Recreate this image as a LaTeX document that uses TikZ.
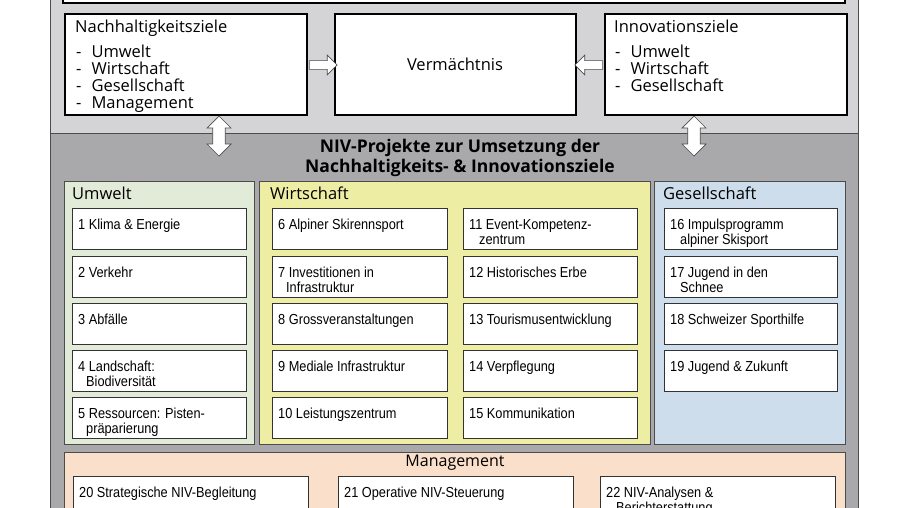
\documentclass[tikz,border=0pt]{standalone}
\usepackage{fontspec}
\setmainfont{Open Sans}
\newfontfamily\narrow[FakeStretch=0.88]{Liberation Sans}
\usetikzlibrary{shapes.arrows}
\definecolor{lightpanel}{HTML}{D4D4D6}
\definecolor{darkpanel}{HTML}{A9A9AB}
\definecolor{umw}{HTML}{E2EBD8}
\definecolor{wir}{HTML}{EEEDA4}
\definecolor{ges}{HTML}{CEDDEB}
\definecolor{man}{HTML}{FADFCB}
\tikzset{
  panel/.style={draw=black!70, line width=0.8pt},
  goal/.style={draw=black, fill=white, line width=1.4pt},
  pbox/.style={draw=black!80, fill=white, line width=0.9pt},
  ptext/.style={anchor=north west, inner sep=0pt, align=left, font=\narrow\fontsize{14.5}{15}\selectfont},
  gtext/.style={anchor=north west, inner sep=0pt, align=left, font=\fontsize{16.5}{17}\selectfont},
  hd/.style={anchor=north west, inner sep=0pt, font=\fontsize{16.5}{18}\selectfont},
  harrow/.style={single arrow, draw=black!70, fill=white, line width=0.7pt, minimum height=28pt, minimum width=20pt, single arrow head extend=3pt, inner sep=2pt},
  varrow/.style={double arrow, draw=black!70, fill=white, line width=0.7pt, minimum height=40pt, minimum width=24pt, double arrow head extend=3pt, inner sep=3pt, shape border rotate=90}
}
\newcommand{\mybox}[6]{%
  \draw[pbox] (#2,#3) rectangle (#4,#5);
  \node[ptext] (#1) at (#2+6,#3+11) {#6};}
\begin{document}
\begin{tikzpicture}[x=1pt,y=-1pt]
\useasboundingbox (0,0) rectangle (900,507);
\fill[white] (0,0) rectangle (900,507);
% panels
\draw[panel, fill=lightpanel] (50,-5) rectangle (858,133);
\draw[goal] (63,-5) rectangle (845,3);
\draw[panel, fill=darkpanel] (50,133) rectangle (858,515);
% goal boxes
\draw[goal] (65,14) rectangle (307,115);
\node[hd] (nz) at (75,20) {Nachhaltigkeitsziele};
\node[gtext] (nzl) at (76,45) {-\hspace{10pt}Umwelt\\-\hspace{10pt}Wirtschaft\\-\hspace{10pt}Gesellschaft\\-\hspace{10pt}Management};
\draw[goal] (335,14) rectangle (576,115);
\node[font=\fontsize{16.5}{18}\selectfont] (verm) at (455,64) {Vermächtnis};
\draw[goal] (605,14) rectangle (847,115);
\node[hd] (iz) at (614,20) {Innovationsziele};
\node[gtext] (izl) at (615,45) {-\hspace{10pt}Umwelt\\-\hspace{10pt}Wirtschaft\\-\hspace{10pt}Gesellschaft};
% arrows
\node[harrow] (a1) at (321,65) {};
\node[harrow, shape border rotate=180] (a2) at (591,65) {};
\node[varrow] (v1) at (219,136) {};
\node[varrow] (v2) at (694,136) {};
% title
\node[font=\bfseries\fontsize{17.5}{20}\selectfont, align=center] (title) at (460,158) {NIV-Projekte zur Umsetzung der\\Nachhaltigkeits- \& Innovationsziele};
% columns
\draw[panel, fill=umw] (64,181) rectangle (254,444);
\node[hd] (hu) at (72,187) {Umwelt};
\draw[panel, fill=wir] (259,181) rectangle (650,444);
\node[hd] (hw) at (270,187) {Wirtschaft};
\draw[panel, fill=ges] (654,181) rectangle (845,444);
\node[hd] (hg) at (663,187) {Gesellschaft};
% Umwelt boxes
\mybox{b1}{72}{208}{246}{249}{1 Klima \& Energie}
\mybox{b2}{72}{256}{246}{297}{2 Verkehr}
\mybox{b3}{72}{303}{246}{344}{3 Abfälle}
\mybox{b4}{72}{350}{246}{391}{4 Landschaft:\\\hspace*{8pt}Biodiversität}
\mybox{b5}{72}{397}{246}{438}{5 Ressourcen: Pisten-\\\hspace*{8pt}präparierung}
% Wirtschaft
\mybox{b6}{272}{208}{447}{249}{6 Alpiner Skirennsport}
\mybox{b7}{272}{256}{447}{297}{7 Investitionen in\\\hspace*{8pt}Infrastruktur}
\mybox{b8}{272}{303}{447}{344}{8 Grossveranstaltungen}
\mybox{b9}{272}{350}{447}{391}{9 Mediale Infrastruktur}
\mybox{b10}{272}{397}{447}{438}{10 Leistungszentrum}
\mybox{b11}{463}{208}{637}{249}{11 Event-Kompetenz-\\\hspace*{10pt}zentrum}
\mybox{b12}{463}{256}{637}{297}{12 Historisches Erbe}
\mybox{b13}{463}{303}{637}{344}{13 Tourismusentwicklung}
\mybox{b14}{463}{350}{637}{391}{14 Verpflegung}
\mybox{b15}{463}{397}{637}{438}{15 Kommunikation}
% Gesellschaft
\mybox{b16}{664}{208}{837}{249}{16 Impulsprogramm\\\hspace*{10pt}alpiner Skisport}
\mybox{b17}{664}{256}{837}{297}{17 Jugend in den\\\hspace*{10pt}Schnee}
\mybox{b18}{664}{303}{837}{344}{18 Schweizer Sporthilfe}
\mybox{b19}{664}{350}{837}{391}{19 Jugend \& Zukunft}
% Management
\draw[panel, fill=man] (64,452) rectangle (845,515);
\node[font=\fontsize{16}{18}\selectfont] (hm) at (455,463) {Management};
\mybox{b20}{73}{476}{308}{515}{20 Strategische NIV-Begleitung}
\mybox{b21}{338}{476}{573}{515}{21 Operative NIV-Steuerung}
\mybox{b22}{600}{476}{835}{515}{22 NIV-Analysen \&\\\hspace*{10pt}Berichterstattung}
\end{tikzpicture}
\end{document}
